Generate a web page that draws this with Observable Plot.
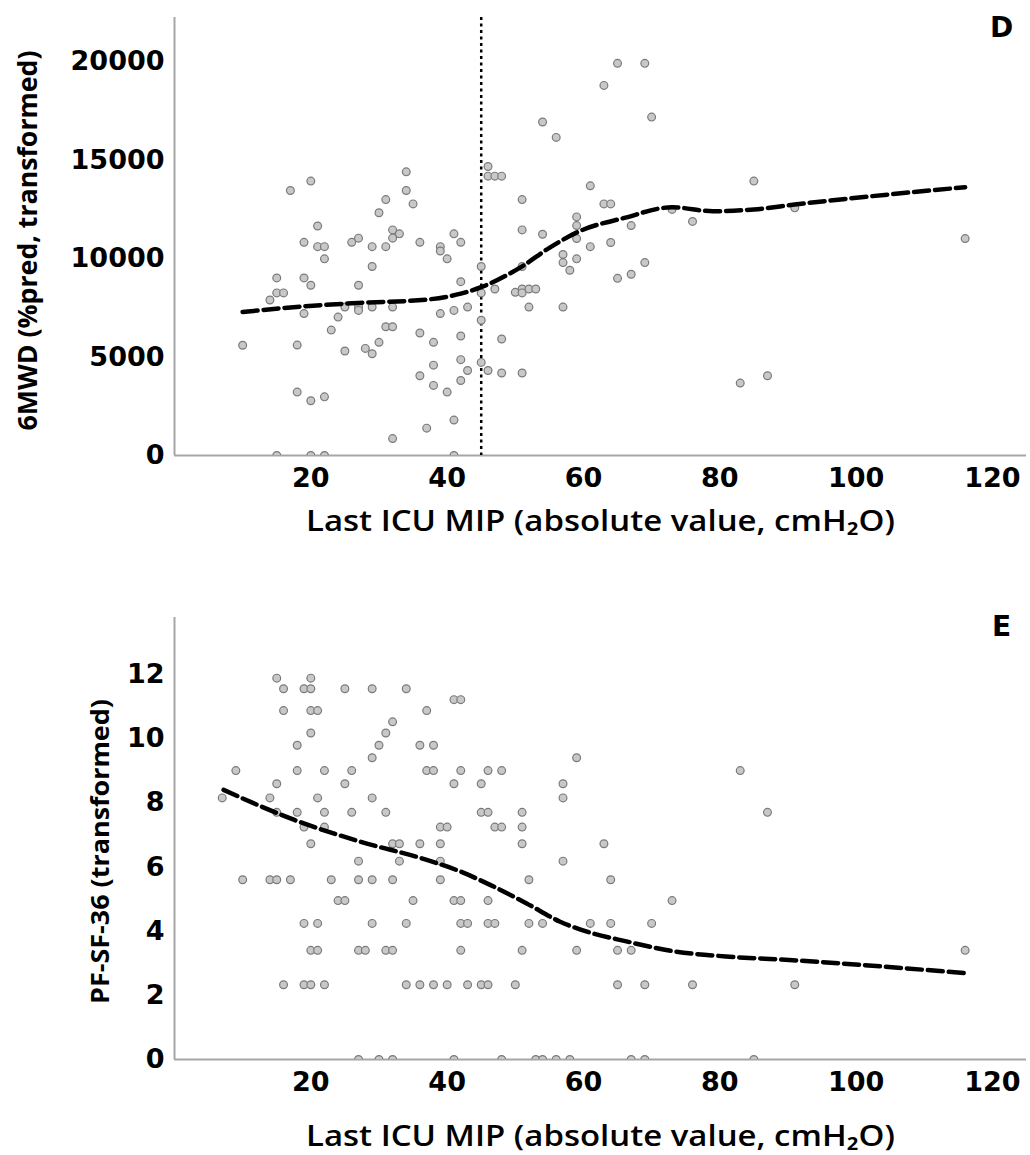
<!DOCTYPE html>
<html><head><meta charset="utf-8">
<script src="https://cdn.jsdelivr.net/npm/d3@7"></script>
<script src="https://cdn.jsdelivr.net/npm/@observablehq/plot@0.6"></script>
<style>
html,body{margin:0;padding:0;background:#fff;}
#chart{width:1030px;}
#chart svg{display:block;}
</style></head><body><div id="chart"></div>
<script>
// ---------- Panel D: 6MWD vs last ICU MIP ----------
const mipD = [10,17,20,21,19,21,22,22,15,19,20,15,16,14,19,18,18,20,22,15,20,22,
  23,24,25,25,26,27,27,27,27,28,29,30,29,29,29,30,31,31,32,32,33,31,32,32,32,
  34,34,35,36,36,36,37,38,38,38,39,39,40,39,40,41,42,42,41,42,43,42,43,42,41,41,
  45,45,45,45,46,46,47,48,47,46,48,48,
  65,69,63,70,54,56,61,85,51,63,64,59,59,67,73,76,51,54,59,64,61,57,57,59,58,69,67,65,
  51,50,51,51,52,53,52,57,51,83,87,91,116];
const sixMWD = [5600,13460,13940,11660,10830,10610,10610,9990,9020,9020,8650,8260,8260,7900,7210,5610,3220,2780,2980,0,0,0,
  6370,7030,5310,7540,10830,11040,8650,7540,7370,5440,5170,5750,10610,9600,7540,12330,13000,10610,11460,11040,11260,6540,6540,7540,860,
  14410,13460,12780,10830,6220,4050,1390,5750,4590,3560,10610,10390,9990,7210,3220,11260,10830,8830,7370,6070,7540,4870,4320,3810,1800,0,
  9600,8260,6870,4730,14680,14190,14190,14190,8460,4320,5920,4190,
  19920,19920,18800,17190,16940,16160,13700,13940,13000,12780,12780,12120,11680,11680,12500,11890,11460,11240,11020,10820,10610,10210,9800,9990,9410,9800,9210,9000,
  9600,8290,8460,8260,8460,8460,7540,7540,4190,3680,4050,12580,11020];
const loessDx = [10, 19, 27, 37, 42, 45, 51, 55, 59.4, 66, 73, 79, 85, 91, 116];
const loessDy = [7290, 7580, 7750, 7920, 8220, 8550, 9610, 10550, 11390, 12070, 12610, 12410, 12500, 12750, 13630];
const cutoffD = [45];
const yTicksD = [0, 5000, 10000, 15000, 20000];

// ---------- Panel E: PF-SF-36 vs last ICU MIP ----------
const mipE = [15,20, 16,19,20,25,29,34, 41,42, 16,20,21,37, 32, 20,31, 18,30,36,38, 29,59,
  9,18,22,26,37,38,42,46,48,83, 15,25,41,45,57, 7,14,21,29,57,
  15,18,22,26,31,45,46,51,87, 19,22,39,40,47,48,51, 20,32,33,36,39,51,63, 27,33,39,57,
  10,14,15,17,23,27,29,32,39,52,64, 24,25,35,41,42,46,73,
  19,21,29,34,42,43,46,47,52,54,61,64,70, 20,21,27,28,31,32,42,51,59,65,67,116,
  16,19,20,22,34,36,38,40,43,45,46,50,65,69,76,91, 27,30,32,41,48,53,54,56,58,67,69,85];
const pfE = [11.88,11.88, 11.55,11.55,11.55,11.55,11.55,11.55, 11.21,11.21, 10.87,10.87,10.87,10.87, 10.52, 10.17,10.17, 9.79,9.79,9.79,9.79, 9.40,9.40,
  9.00,9.00,9.00,9.00,9.00,9.00,9.00,9.00,9.00,9.00, 8.59,8.59,8.59,8.59,8.59, 8.15,8.15,8.15,8.15,8.15,
  7.70,7.70,7.70,7.70,7.70,7.70,7.70,7.70,7.70, 7.24,7.24,7.24,7.24,7.24,7.24,7.24, 6.72,6.72,6.72,6.72,6.72,6.72,6.72, 6.18,6.18,6.18,6.18,
  5.60,5.60,5.60,5.60,5.60,5.60,5.60,5.60,5.60,5.60,5.60, 4.95,4.95,4.95,4.95,4.95,4.95,4.95,
  4.24,4.24,4.24,4.24,4.24,4.24,4.24,4.24,4.24,4.24,4.24,4.24,4.24, 3.40,3.40,3.40,3.40,3.40,3.40,3.40,3.40,3.40,3.40,3.40,3.40,
  2.33,2.33,2.33,2.33,2.33,2.33,2.33,2.33,2.33,2.33,2.33,2.33,2.33,2.33,2.33,2.33, 0,0,0,0,0,0,0,0,0,0,0,0];
const loessEx = [7.2, 17.5, 27.2, 37, 41.9, 46.3, 51.6, 56.5, 60.4, 66.3, 73.6, 80.9, 90.2, 116];
const loessEy = [8.40, 7.47, 6.79, 6.22, 5.86, 5.44, 4.87, 4.30, 3.99, 3.68, 3.36, 3.21, 3.10, 2.69];
const yTicksE = [0, 2, 4, 6, 8, 10, 12];

// ---------- shared ----------
const xTicks = [20, 40, 60, 80, 100, 120];
const xTitle = "Last ICU MIP (absolute value, cmH\u2082O)";
const yTitleD = "6MWD (%pred, transformed)";
const yTitleE = "PF-SF-36 (transformed)";

const tickFont = "'DejaVu Sans', sans-serif";
const titleFont = "'Open Sans', sans-serif";
const dotFill = "#c8c8c8", dotStroke = "#7a7a7a", axisGray = "#a6a6a6";

function panel({pts, loess, yDomain, yTicks, height, marginTop, marginBottom, letter, letterDy,
                yTitle, yTitleDx, yTitleDy, yTitleSize, xTitleDy, extra}) {
  return Plot.plot({
    width: 1030, height, marginLeft: 174, marginRight: 4, marginTop, marginBottom,
    style: {fontFamily: tickFont, fontSize: "27px", fontWeight: "bold", color: "#000", background: "#fff"},
    x: {domain: [0, 125], ticks: xTicks, tickSize: 0, tickPadding: 12, label: null},
    y: {domain: yDomain, ticks: yTicks, tickSize: 0, tickPadding: 10, tickFormat: d => String(d), label: null},
    marks: [
      Plot.ruleX([0], {stroke: axisGray, strokeWidth: 2}),
      Plot.ruleY([0], {stroke: axisGray, strokeWidth: 2}),
      ...(extra || []),
      Plot.dot(pts, {x: "x", y: "y", r: 3.9, fill: dotFill, stroke: dotStroke, strokeWidth: 1.2, clip: true}),
      Plot.line(loess, {x: "x", y: "y", stroke: "#000", strokeWidth: 4.5, strokeDasharray: "15,6", curve: "monotone-x"}),
      Plot.text([letter], {frameAnchor: "top-right", dx: -25, dy: letterDy, textAnchor: "middle", lineAnchor: "middle",
        fontSize: 28, fontWeight: "bold", fontFamily: tickFont}),
      Plot.text([yTitle], {frameAnchor: "left", dx: yTitleDx, dy: yTitleDy, rotate: -90, textAnchor: "middle", lineAnchor: "middle",
        fontSize: yTitleSize, fontWeight: 700, fontFamily: titleFont}),
      Plot.text([xTitle], {frameAnchor: "bottom", dy: xTitleDy, textAnchor: "middle", lineAnchor: "middle",
        fontSize: 29, fontWeight: 600, fontFamily: titleFont})
    ]
  });
}

const ptsD = mipD.map((x, i) => ({x, y: sixMWD[i]}));
const lD = loessDx.map((x, i) => ({x, y: loessDy[i]}));
const ptsE = mipE.map((x, i) => ({x, y: pfE[i]}));
const lE = loessEx.map((x, i) => ({x, y: loessEy[i]}));

const chartD = panel({
  pts: ptsD, loess: lD, yDomain: [0, 22250], yTicks: yTicksD, height: 580, marginTop: 17, marginBottom: 125,
  letter: "D", letterDy: 11, yTitle: yTitleD, yTitleDx: -146, yTitleDy: 4, yTitleSize: 27, xTitleDy: 66,
  extra: [Plot.ruleX(cutoffD, {stroke: "#000", strokeWidth: 2.5, strokeDasharray: "3,3.5"})]
});
const chartE = panel({
  pts: ptsE, loess: lE, yDomain: [0, 13.77], yTicks: yTicksE, height: 575, marginTop: 37, marginBottom: 96,
  letter: "E", letterDy: 10, yTitle: yTitleE, yTitleDx: -74, yTitleDy: 13, yTitleSize: 25, xTitleDy: 77
});

const root = document.getElementById("chart");
root.append(chartD, chartE);

function fit(svg, txt, len) {
  d3.select(svg).selectAll("text").filter(function() { return this.textContent === txt; })
    .attr("textLength", len).attr("lengthAdjust", "spacingAndGlyphs");
}
fit(chartD, xTitle, 589); fit(chartE, xTitle, 589);
fit(chartD, yTitleD, 380); fit(chartE, yTitleE, 305);
</script></body></html>
